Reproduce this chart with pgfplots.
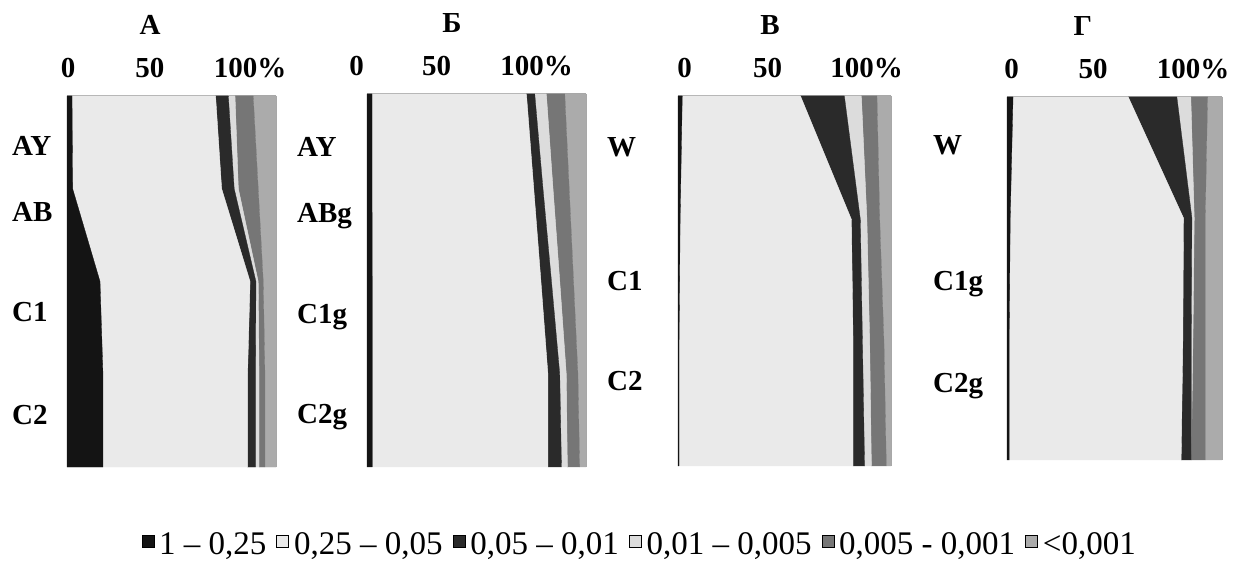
\documentclass[border=0pt]{standalone}
\usepackage{fontspec}
\setmainfont{Liberation Serif}
\usepackage{pgfplots}
\pgfplotsset{compat=1.18}
\usepackage{pgfplotstable}

\definecolor{cA}{HTML}{141414}
\definecolor{cB}{HTML}{EAEAEA}
\definecolor{cC}{HTML}{2A2A2A}
\definecolor{cD}{HTML}{DCDCDC}
\definecolor{cE}{HTML}{767676}
\definecolor{cF}{HTML}{ABABAB}
\definecolor{cTop}{HTML}{A8A8A8}

% rows: r = -(row index), top = 0; z = zero baseline; classes c1..c6 in %
\pgfplotstableread{
r z c1 c2 c3 c4 c5 c6
0 0 2.4 68.7 6.1 3.2 8.7 10.9
-1 0 2.7 71.3 6.0 2.0 9.5 8.5
-2 0 15.8 71.8 2.8 1.1 2.4 6.1
-3 0 17.2 69.2 3.8 1.7 2.8 5.3
-4 0 17.2 69.2 3.8 1.7 2.8 5.3
}\tA
\pgfplotstableread{
r z c1 c2 c3 c4 c5 c6
0 0 2.3 70.5 3.8 5.3 8.4 9.7
-1 0 2.3 73.8 4.2 4.6 7.4 7.7
-2 0 2.4 77.0 4.8 3.8 6.3 5.7
-3 0 2.4 80.2 5.4 3.0 5.3 3.7
-4 0 2.4 80.2 6.2 2.7 5.6 2.9
}\tB
\pgfplotstableread{
r z c1 c2 c3 c4 c5 c6
0 0 2.0 55.5 20.6 8.0 7.3 6.6
-1 0 1.0 80.4 4.2 3.1 6.0 5.3
-2 0 0.5 81.7 4.4 3.4 6.7 3.3
-3 0 0.5 81.7 5.4 3.2 7.0 2.2
}\tV
\pgfplotstableread{
r z c1 c2 c3 c4 c5 c6
0 0 2.8 53.6 22.6 6.5 7.8 6.7
-1 0 1.5 80.6 3.9 1.1 5.1 7.8
-2 0 1.0 80.8 3.9 0.8 5.7 7.8
-3 0 1.0 80.0 4.7 0.0 6.5 7.8
}\tG

\newcommand{\pfont}{\fontsize{29bp}{32bp}\selectfont\bfseries}

\pgfplotsset{
  every axis title/.style={anchor=center, yshift=71bp, font=\pfont},
  panel/.style={
    scale only axis, xmin=0, xmax=100,
    stack plots=x,
    axis line style={draw=none},
    tick style={draw=none},
    xticklabel pos=upper,
    ticklabel style={font=\pfont, inner sep=0pt},
    xticklabel style={anchor=center, yshift=28bp},
    yticklabel style={anchor=west, text height=19bp, text depth=0bp},
    clip=false,
  },
  s1/.style={fill=cA, draw=cA, line width=0.3bp},
  s2/.style={fill=cB, draw=cB, line width=0.3bp},
  s3/.style={fill=cC, draw=cC, line width=0.3bp},
  s4/.style={fill=cD, draw=cD, line width=0.3bp},
  s5/.style={fill=cE, draw=cE, line width=0.3bp},
  s6/.style={fill=cF, draw=cF, line width=0.3bp},
}

\newcommand{\stack}[1]{%
  \addplot[draw=none, forget plot] table[x=z,y=r]{#1};
  \addplot[s1] table[x=c1,y=r]{#1} \closedcycle;
  \addplot[s2] table[x=c2,y=r]{#1} \closedcycle;
  \addplot[s3] table[x=c3,y=r]{#1} \closedcycle;
  \addplot[s4] table[x=c4,y=r]{#1} \closedcycle;
  \addplot[s5] table[x=c5,y=r]{#1} \closedcycle;
  \addplot[s6] table[x=c6,y=r]{#1} \closedcycle;
}
\newcommand{\frameit}{%
  \draw[cTop, line width=2.5bp] (rel axis cs:0,1) -- (rel axis cs:1,1);
  \draw[cTop, line width=0.8bp] (rel axis cs:1,0) -- (rel axis cs:1,1);
}

\begin{document}
\begin{tikzpicture}
\path[use as bounding box] (0,0) rectangle (1235bp,564bp);

% Panel A
\begin{axis}[panel, at={(67bp,97bp)}, anchor=south west, width=209bp, height=371bp,
  ymin=-4, ymax=0,
  title={А}, title style={at={(0.397,1)}},
  xtick={0.5,39.7,87.6}, xticklabels={0,50,100\%},
  ytick={-3.44,-2.33,-1.25,-0.54}, yticklabels={C2,C1,AB,AY},
  yticklabel style={xshift=-55bp},
  legend style={at={(2.740,-0.208)}, anchor=center, draw=none, fill=none,
    font=\fontsize{33bp}{36bp}\selectfont, legend columns=6,
    /tikz/every odd column/.append style={column sep=3bp},
    /tikz/every even column/.append style={column sep=8bp}},
  legend image code/.code={\draw[#1, draw=black, line width=0.7bp] (0bp,-3bp) rectangle (12bp,9bp);},
  legend cell align=left]
\addplot[draw=none, forget plot] table[x=z,y=r]{\tA};
\addplot[s1] table[x=c1,y=r]{\tA} \closedcycle; \addlegendentry{1 – 0,25}
\addplot[s2] table[x=c2,y=r]{\tA} \closedcycle; \addlegendentry{0,25 – 0,05}
\addplot[s3] table[x=c3,y=r]{\tA} \closedcycle; \addlegendentry{0,05 – 0,01}
\addplot[s4] table[x=c4,y=r]{\tA} \closedcycle; \addlegendentry{0,01 – 0,005}
\addplot[s5] table[x=c5,y=r]{\tA} \closedcycle; \addlegendentry{0,005 - 0,001}
\addplot[s6] table[x=c6,y=r]{\tA} \closedcycle; \addlegendentry{<0,001}
\frameit
\end{axis}

% Panel B
\begin{axis}[panel, at={(367bp,97bp)}, anchor=south west, width=219bp, height=373bp,
  ymin=-4, ymax=0,
  title={Б}, title style={at={(0.388,1)}},
  xtick={0,31.8,77.5}, xticklabels={\makebox[0pt]{\hspace*{-20.6bp}0},50,100\%},
  ytick={-3.43,-2.36,-1.28,-0.57}, yticklabels={C2g,C1g,ABg,AY},
  yticklabel style={xshift=-70bp}]
\stack{\tB}
\frameit
\end{axis}

% Panel V
\begin{axis}[panel, at={(678bp,98bp)}, anchor=south west, width=213bp, height=370bp,
  ymin=-3, ymax=0,
  title={В}, title style={at={(0.432,1)}},
  xtick={3.1,42.1,88.5}, xticklabels={0,50,100\%},
  ytick={-2.31,-1.5,-0.41}, yticklabels={C2,C1,W},
  yticklabel style={xshift=-71bp}]
\stack{\tV}
\frameit
\end{axis}

% Panel G
\begin{axis}[panel, at={(1007bp,104bp)}, anchor=south west, width=215bp, height=363bp,
  ymin=-3, ymax=0,
  title={Г}, title style={at={(0.353,1)}},
  xtick={2.1,40.0,86.6}, xticklabels={0,50,100\%},
  ytick={-2.36,-1.52,-0.40}, yticklabels={C2g,C1g,W},
  yticklabel style={xshift=-74bp}]
\stack{\tG}
\frameit
\end{axis}
\end{tikzpicture}
\end{document}
